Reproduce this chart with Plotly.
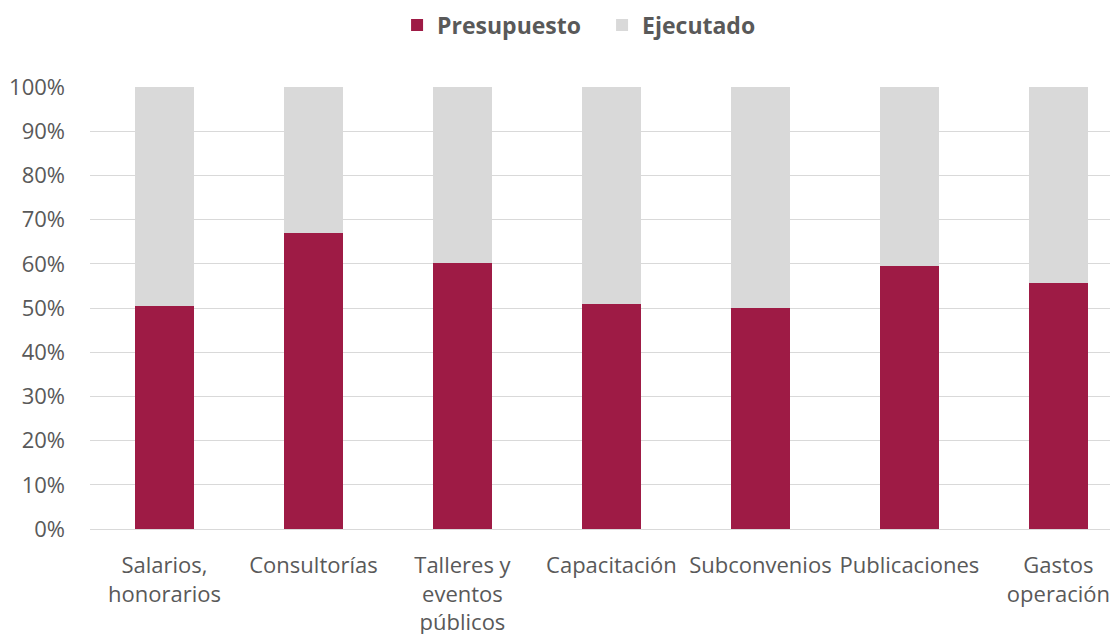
import plotly.graph_objects as go

categories = ["Salarios,<br>honorarios", "Consultorías", "Talleres y<br>eventos<br>públicos",
              "Capacitación", "Subconvenios", "Publicaciones", "Gastos<br>operación"]
presupuesto = [50.5, 66.9, 60.1, 50.8, 50.1, 59.4, 55.6]
ejecutado = [49.5, 33.1, 39.9, 49.2, 49.9, 40.6, 44.4]

RED = "#9E1B45"
GREY = "#D9D9D9"
TXT = "#595959"
FONT = "Open Sans"

fig = go.Figure()
fig.add_trace(go.Bar(x=categories, y=presupuesto, name="Presupuesto",
                     marker=dict(color=RED, line=dict(width=0)), width=0.4))
fig.add_trace(go.Bar(x=categories, y=ejecutado, name="Ejecutado",
                     marker=dict(color=GREY, line=dict(width=0)), width=0.4))

fig.update_layout(
    width=1118, height=634,
    barmode="stack",
    plot_bgcolor="white", paper_bgcolor="white",
    margin=dict(l=82, r=8, t=79, b=113, autoexpand=False),
    font=dict(family=FONT, color=TXT, size=22),
    showlegend=True,
    legend=dict(orientation="h", xref="container", yref="container",
                x=0.348, xanchor="left", y=0.973, yanchor="middle",
                traceorder="normal", entrywidth=160, entrywidthmode="pixels",
                font=dict(family=FONT, size=23, color=TXT, weight="bold"),
                itemwidth=30, tracegroupgap=0),
    xaxis=dict(range=[-0.5, 6.4], showgrid=False, showline=False, ticks="",
               ticklabelstandoff=21,
               tickfont=dict(size=22, color=TXT)),
    yaxis=dict(range=[0, 100], dtick=10, ticksuffix="%", showgrid=True,
               gridcolor="#D9D9D9", gridwidth=1.3, zeroline=True,
               zerolinecolor="#D9D9D9", zerolinewidth=1.3, showline=False,
               ticks="", ticklabelstandoff=24,
               tickfont=dict(size=22, color=TXT)),
)

fig.write_html("out.html")
